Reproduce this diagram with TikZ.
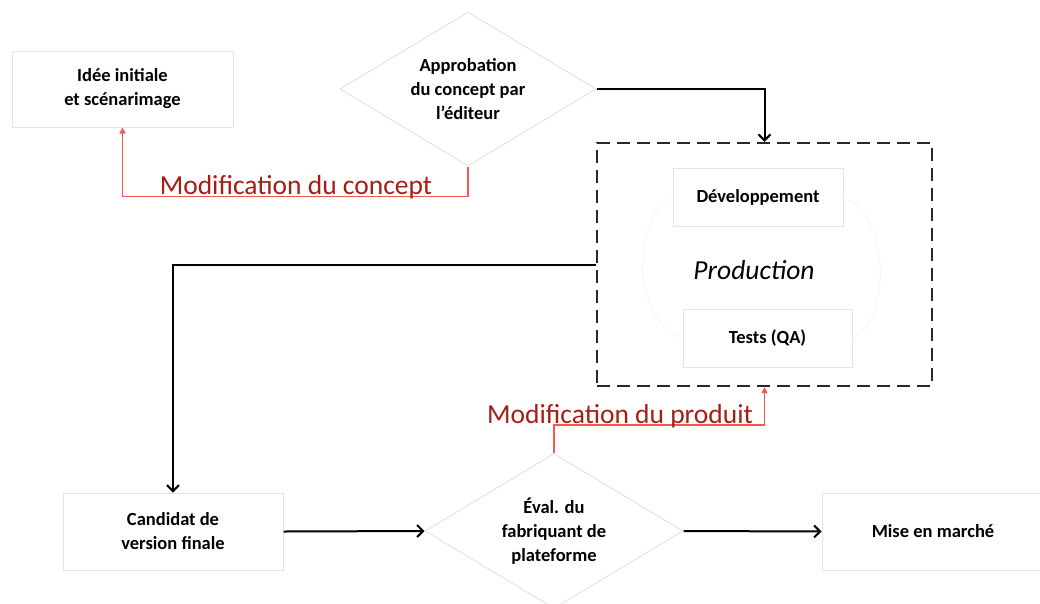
\documentclass[tikz,border=0pt]{standalone}
\usepackage{fontspec}
\setmainfont{Carlito}
\usetikzlibrary{shapes.geometric,arrows.meta}
\definecolor{faint}{RGB}{228,228,228}
\definecolor{fainter}{RGB}{246,246,246}
\definecolor{redline}{RGB}{240,90,80}
\definecolor{redtext}{RGB}{165,30,20}
\definecolor{dashcol}{RGB}{40,40,40}
\tikzset{
  boxtext/.style={font=\fontsize{18.5}{24}\selectfont\bfseries, align=center},
  stepbox/.style={boxtext, draw=faint, line width=1pt, rectangle, inner sep=0pt},
  decision/.style={boxtext, draw=faint, line width=1pt, diamond, aspect=1.66, inner sep=0pt},
  flow/.style={line width=2pt, black, -{Straight Barb[length=6pt,width=12pt]}},
  loopback/.style={line width=1.8pt, redline, -{Triangle[length=6pt,width=6pt]}},
  redlabel/.style={text=redtext, font=\fontsize{27.5}{31}\selectfont, anchor=base, inner sep=0pt},
  cyclearc/.style={draw=fainter, line width=1pt}
}
\begin{document}
\begin{tikzpicture}[x=1pt,y=-1pt]
\useasboundingbox (0,0) rectangle (1040,603);
% nodes
\node[stepbox, minimum width=221, minimum height=76] (idee) at (122.5,89) {Idée initiale\\et scénarimage};
\node[decision, minimum width=256, minimum height=154] (appro) at (468,89) {Approbation\\du concept par\\l’éditeur};
\node[draw=dashcol, line width=2.4pt, dash pattern=on 13pt off 7pt, rectangle, minimum width=335, minimum height=243, inner sep=0pt] (prodbox) at (764.5,264.5) {};
\node[stepbox, minimum width=170, minimum height=58] (dev) at (758,197.5) {Développement};
\node[font=\fontsize{27.5}{31}\selectfont\itshape] (prod) at (754,270) {Production};
\node[stepbox, minimum width=169, minimum height=58] (tests) at (767.5,338) {Tests (QA)};
\node[stepbox, minimum width=220, minimum height=77] (cand) at (173,531.5) {Candidat de\\version finale};
\node[decision, minimum width=258, minimum height=155] (eval) at (554,531) {Éval. du\\fabriquant de\\plateforme};
\node[stepbox, minimum width=222, minimum height=77] (mise) at (933,531.5) {Mise en marché};
% production cycle (faint)
\draw[cyclearc] (dev.west) .. controls (631,215) and (631,321) .. (tests.west);
\draw[cyclearc] (dev.east) .. controls (891,215) and (891,321) .. (tests.east);
% connectors
\draw[flow] (appro.east) -| (prodbox.north);
\draw[flow] (prodbox.west) -| (cand.north);
\draw[flow] (cand.east) -- (eval.west);
\draw[flow] (eval.east) -- (mise.west);
\draw[loopback] (appro.south) -- ++(0,30) -| (idee.south);
\draw[loopback] (eval.north) -- ++(0,-28) -| (prodbox.south);
% labels
\node[redlabel] (lconcept) at (296,194) {Modification du concept};
\node[redlabel] (lproduit) at (620,423) {Modification du produit};
\end{tikzpicture}
\end{document}
